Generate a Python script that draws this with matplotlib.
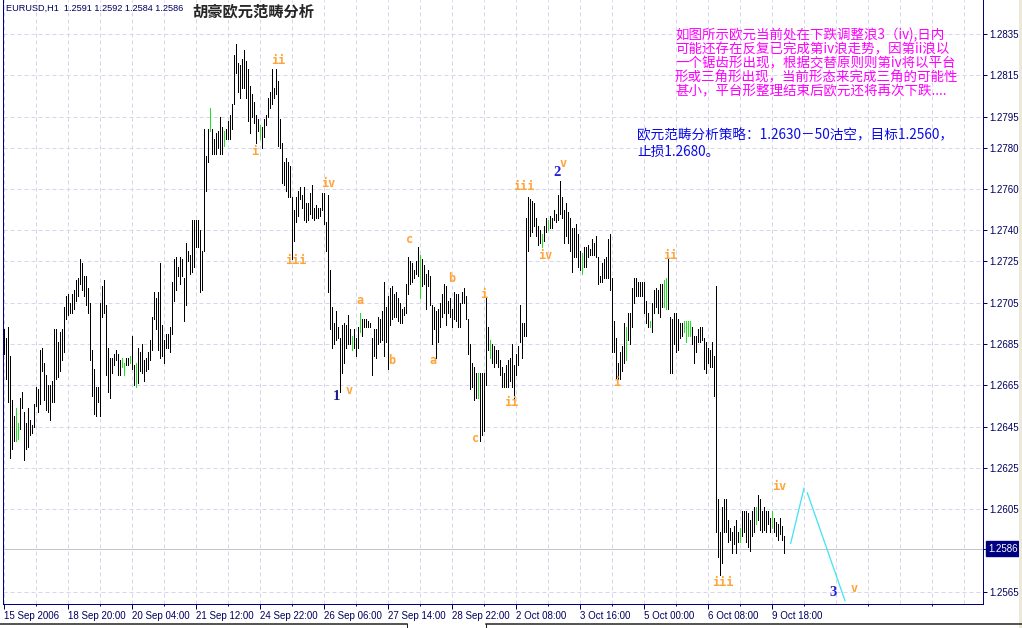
import matplotlib
matplotlib.use('Agg')
import matplotlib.pyplot as plt
from matplotlib.transforms import blended_transform_factory
from matplotlib.lines import Line2D
from matplotlib.patches import Rectangle

# ---------------- data (prices x 10000) ----------------
HIGH_A = [12692, 12688, 12693, 12679, 12658, 12650, 12654, 12647, 12659, 12662,
          12652, 12647, 12654, 12648, 12646, 12656, 12664, 12663, 12682, 12683,
          12676, 12670, 12665, 12665, 12667, 12692, 12692, 12686, 12691, 12692,
          12703, 12708, 12709, 12705, 12709, 12711, 12716, 12717, 12726, 12724,
          12718, 12718, 12712, 12705, 12682, 12673, 12664, 12664, 12705, 12713,
          12716, 12704, 12683, 12678, 12678, 12680, 12682, 12680, 12677, 12678,
          12676, 12678, 12678, 12679, 12689, 12675, 12676, 12683, 12681, 12685,
          12677, 12678, 12681, 12687, 12698, 12710, 12707, 12710, 12724, 12694,
          12687, 12690, 12690, 12693, 12715, 12726, 12727, 12722, 12727, 12726,
          12717, 12734, 12730, 12728, 12745, 12745, 12745, 12745, 12740, 12730]
LOW_A = [12680, 12668, 12657, 12630, 12634, 12638, 12638, 12639, 12644, 12654,
         12629, 12634, 12635, 12641, 12642, 12645, 12655, 12652, 12656, 12672,
         12658, 12653, 12652, 12648, 12657, 12657, 12668, 12669, 12672, 12677,
         12681, 12697, 12699, 12700, 12700, 12702, 12706, 12708, 12714, 12711,
         12708, 12704, 12700, 12677, 12660, 12651, 12650, 12657, 12650, 12698,
         12700, 12670, 12662, 12659, 12671, 12675, 12677, 12670, 12670, 12674,
         12670, 12675, 12675, 12676, 12673, 12665, 12664, 12666, 12672, 12671,
         12667, 12672, 12673, 12677, 12682, 12697, 12692, 12682, 12678, 12679,
         12676, 12683, 12683, 12681, 12690, 12706, 12711, 12718, 12714, 12718,
         12696, 12704, 12725, 12719, 12720, 12722, 12732, 12732, 12710, 12711]
HIGH_B = [12789, 12776, 12789, 12799, 12789, 12784, 12787, 12788, 12795, 12790,
          12788, 12789, 12793, 12796, 12801, 12825, 12830, 12821, 12820, 12823,
          12827, 12822, 12818, 12810, 12806, 12802, 12796, 12794, 12791, 12790,
          12794, 12796, 12804, 12807, 12818, 12809, 12818, 12812, 12794, 12782,
          12773, 12775, 12773, 12771, 12756, 12750, 12756, 12759, 12761, 12757,
          12761, 12753, 12753, 12758, 12762, 12751, 12752, 12751, 12751, 12758,
          12758, 12744, 12757, 12721, 12703, 12695, 12701, 12693, 12688, 12694,
          12695, 12694, 12699, 12692, 12689, 12692, 12688, 12693, 12700, 12697,
          12697, 12697, 12696, 12695, 12688, 12692, 12692, 12698, 12697, 12701,
          12715, 12703, 12708, 12712, 12713, 12709, 12710, 12707, 12705, 12702]
LOW_B = [12730, 12759, 12773, 12788, 12777, 12777, 12777, 12780, 12777, 12777,
         12781, 12784, 12784, 12784, 12789, 12801, 12816, 12807, 12804, 12809,
         12809, 12804, 12793, 12787, 12795, 12792, 12782, 12788, 12784, 12780,
         12785, 12791, 12795, 12799, 12801, 12804, 12806, 12781, 12780, 12763,
         12762, 12759, 12756, 12756, 12726, 12735, 12744, 12747, 12755, 12751,
         12745, 12744, 12745, 12748, 12746, 12745, 12746, 12746, 12747, 12750,
         12743, 12730, 12710, 12692, 12683, 12685, 12687, 12688, 12662, 12671,
         12676, 12683, 12685, 12685, 12682, 12683, 12679, 12683, 12691, 12689,
         12693, 12693, 12693, 12693, 12670, 12679, 12678, 12685, 12686, 12687,
         12679, 12686, 12673, 12694, 12697, 12698, 12698, 12696, 12695, 12695]
HIGH_C = [12703, 12714, 12727, 12725, 12724, 12721, 12725, 12732, 12728, 12726,
          12723, 12719, 12721, 12718, 12704, 12703, 12701, 12702, 12705, 12709,
          12714, 12713, 12706, 12707, 12702, 12710, 12709, 12709, 12705, 12710,
          12712, 12708, 12697, 12685, 12676, 12674, 12671, 12671, 12671, 12671,
          12671, 12707, 12693, 12687, 12685, 12684, 12682, 12682, 12677, 12674,
          12671, 12675, 12677, 12678, 12685, 12675, 12680, 12684, 12704, 12695,
          12695, 12746, 12756, 12755, 12754, 12753, 12746, 12742, 12740, 12738,
          12742, 12746, 12745, 12747, 12746, 12750, 12748, 12757, 12764, 12756,
          12750, 12753, 12749, 12746, 12741, 12741, 12743, 12738, 12730, 12729,
          12732, 12732, 12733, 12731, 12736, 12734, 12737, 12727, 12718, 12724]
LOW_C = [12699, 12700, 12709, 12714, 12715, 12717, 12719, 12718, 12707, 12713,
         12714, 12702, 12713, 12704, 12685, 12692, 12678, 12686, 12693, 12698,
         12700, 12694, 12700, 12698, 12693, 12697, 12696, 12693, 12693, 12705,
         12705, 12697, 12680, 12663, 12664, 12658, 12659, 12659, 12638, 12641,
         12643, 12665, 12682, 12678, 12676, 12674, 12676, 12674, 12670, 12664,
         12664, 12664, 12664, 12667, 12664, 12659, 12670, 12675, 12686, 12678,
         12689, 12689, 12730, 12737, 12739, 12742, 12737, 12733, 12734, 12732,
         12735, 12739, 12740, 12741, 12741, 12745, 12744, 12745, 12748, 12746,
         12734, 12737, 12734, 12730, 12720, 12727, 12727, 12722, 12721, 12719,
         12722, 12722, 12727, 12728, 12728, 12728, 12727, 12714, 12715, 12715]
HIGH_D = [12726, 12727, 12736, 12738, 12717, 12696, 12688, 12676, 12681, 12684,
          12695, 12693, 12700, 12700, 12712, 12717, 12717, 12715, 12715, 12715,
          12715, 12706, 12700, 12696, 12705, 12711, 12712, 12711, 12714, 12714,
          12716, 12717, 12726, 12698, 12697, 12700, 12700, 12697, 12695, 12695,
          12696, 12696, 12696, 12696, 12693, 12689, 12689, 12692, 12693, 12693,
          12688, 12686, 12683, 12682, 12686, 12679, 12713, 12610, 12594, 12606,
          12610, 12610, 12600, 12596, 12594, 12597, 12600, 12594, 12596, 12604,
          12604, 12604, 12603, 12600, 12604, 12606, 12606, 12612, 12610, 12604,
          12606, 12604, 12604, 12601, 12604, 12601, 12599, 12598, 12601, 12597, 12592]
LOW_D = [12717, 12717, 12717, 12711, 12681, 12681, 12668, 12668, 12668, 12672,
         12676, 12677, 12687, 12685, 12693, 12705, 12708, 12708, 12708, 12708,
         12700, 12695, 12693, 12693, 12691, 12700, 12703, 12700, 12698, 12703,
         12703, 12702, 12702, 12671, 12671, 12685, 12681, 12682, 12688, 12689,
         12691, 12686, 12689, 12689, 12685, 12676, 12681, 12686, 12686, 12687,
         12673, 12671, 12676, 12674, 12674, 12660, 12594, 12582, 12573, 12579,
         12594, 12594, 12589, 12590, 12584, 12588, 12584, 12589, 12589, 12592,
         12594, 12589, 12587, 12585, 12592, 12594, 12598, 12600, 12595, 12594,
         12595, 12594, 12598, 12594, 12596, 12594, 12592, 12590, 12593, 12590, 12584]
GREEN_BARS = [6, 7, 59, 60, 63, 66, 103, 110, 128, 174, 178, 208, 237, 243, 269,
              272, 289, 311, 323, 330, 331, 340, 341, 342, 343, 368, 376, 384]

# projection (cyan) path: bar index, price
PROJ1_X = [393.6, 400.25]
PROJ1_Y = [1.25886, 1.26152]
PROJ2_X = [401.9, 420.75]
PROJ2_Y = [1.26130, 1.25608]

LAST_PRICE = 1.2586
PRICE_LEVELS = [1.2835, 1.2815, 1.2795, 1.2780, 1.2760, 1.2740, 1.2725, 1.2705,
                1.2685, 1.2665, 1.2645, 1.2625, 1.2605, 1.2565]
DATE_TICKS = [0, 32, 64, 96, 128, 160, 192, 224, 256, 288, 320, 352, 384]
DATE_LABELS = ['15 Sep 2006', '18 Sep 20:00', '20 Sep 04:00', '21 Sep 12:00',
               '24 Sep 22:00', '26 Sep 06:00', '27 Sep 14:00', '28 Sep 22:00',
               '2 Oct 08:00', '3 Oct 16:00', '5 Oct 00:00', '6 Oct 08:00',
               '9 Oct 18:00']
HEADER = 'EURUSD,H1  1.2591 1.2592 1.2584 1.2586'
TITLE = '胡豪欧元范畴分析'
NOTE_LINES = ['如图所示欧元当前处在下跌调整浪3（iv),日内',
              '可能还存在反复已完成第iv浪走势，因第ii浪以',
              '一个锯齿形出现，根据交替原则则第iv将以平台',
              '形或三角形出现，当前形态来完成三角的可能性',
              '甚小，平台形整理结束后欧元还将再次下跌....']
STRATEGY_LINES = ['欧元范畴分析策略：1.2630－50沽空，目标1.2560，',
                  '止损1.2680。']

# ---------------- styling ----------------
W, H = 1022, 628
PX = 72 / 100.0  # one pixel in points
NAVY = '#000080'
TXT_NAVY = '#000060'
ORANGE = '#ffa43a'
GRID = '#d6d6ee'
CJK = ['Noto Sans CJK SC', 'DejaVu Sans']

fig = plt.figure(figsize=(W / 100, H / 100), dpi=100)
fig.patch.set_facecolor('white')

ax = fig.add_axes([3 / W, 1 - 604 / H, 980 / W, 604 / H])
ax.set_facecolor('white')
ax.set_xlim(-0.25, 489.75)
ax.set_ylim(1.25592, 1.28514)

highs = [v / 10000 for v in HIGH_A + HIGH_B + HIGH_C + HIGH_D]
lows = [v / 10000 for v in LOW_A + LOW_B + LOW_C + LOW_D]
idx = list(range(len(highs)))
green = set(GREEN_BARS)
cols = ['#22e022' if i in green else 'black' for i in idx]
ax.vlines(idx, lows, highs, colors=cols, linewidth=1.0 * PX,
          antialiased=False, zorder=3)

# grid
for lv in PRICE_LEVELS:
    ax.axhline(lv, color=GRID, lw=1.0 * PX, ls=(0, (4, 3)), zorder=1)
for gx in range(0, 490, 16):
    ax.axvline(gx, color=GRID, lw=1.0 * PX, ls=(0, (4, 3)), zorder=1)
ax.axhline(LAST_PRICE, color='#c4c4c4', lw=1.0 * PX, zorder=2)

# projection
ax.plot(PROJ1_X, PROJ1_Y, color='#45e3f3', lw=1.3 * PX, zorder=4)
ax.plot(PROJ2_X, PROJ2_Y, color='#45e3f3', lw=1.3 * PX, zorder=4)

# spines
for s in ['left', 'right', 'bottom']:
    ax.spines[s].set_color(NAVY)
    ax.spines[s].set_linewidth(1.0 * PX)
ax.spines['top'].set_visible(False)

# x ticks
ax.set_xticks(DATE_TICKS)
ax.set_xticklabels(DATE_LABELS, ha='left')
ax.set_xticks(list(range(16, 490, 32)), minor=True)
ax.tick_params(axis='x', which='major', length=5 * PX, width=1.0 * PX,
               color=NAVY, pad=1.2, labelsize=7, labelcolor=TXT_NAVY)
ax.tick_params(axis='x', which='minor', length=2.5 * PX, width=1.0 * PX,
               color=NAVY)
# y ticks on right
ax.yaxis.tick_right()
ax.set_yticks(PRICE_LEVELS)
ax.set_yticklabels(['%.4f' % v for v in PRICE_LEVELS])
ax.tick_params(axis='y', which='major', length=4 * PX, width=1.0 * PX,
               color=NAVY, pad=1.6, labelsize=7, labelcolor=TXT_NAVY)
for lab in ax.get_xticklabels() + ax.get_yticklabels():
    lab.set_family('Liberation Sans')

# last price box
tr = blended_transform_factory(ax.transAxes, ax.transData)
ax.plot([1.0, 1.0 + 4 / 980], [LAST_PRICE, LAST_PRICE], color=NAVY,
        lw=1.0 * PX, transform=tr, clip_on=False)
ax.text(1.0 + 5 / 980, LAST_PRICE, '%.4f' % LAST_PRICE, transform=tr,
        ha='left', va='center', color='white', fontsize=7,
        family='Liberation Sans', clip_on=False,
        bbox=dict(boxstyle='square,pad=0.25', fc=NAVY, ec=NAVY))


def ft(x, y, s, **kw):
    fig.text(x / W, 1 - y / H, s, **kw)


# header texts
ft(6, 8.5, HEADER, fontsize=6.6, family='Liberation Sans', color=TXT_NAVY,
   va='center', ha='left')
ft(192, 11, TITLE, fontsize=11, family=CJK, weight='bold', color='#262626',
   va='center', ha='left')

for k, line in enumerate(NOTE_LINES):
    ft(675, 35 + 14 * k, line, fontsize=9.7, family=CJK, color='#ff00ff',
       va='center', ha='left')
for k, line in enumerate(STRATEGY_LINES):
    ft(637, 135 + 16.5 * k, line, fontsize=9.8, family=CJK, color='#0a0ae6',
       va='center', ha='left')

# wave labels (pixel positions)
WAVE_LABELS = [('ii', 278, 61), ('i', 255, 152), ('iv', 328, 184),
               ('iii', 296, 261), ('a', 360, 301), ('v', 349, 391),
               ('b', 392, 361), ('c', 410, 239), ('b', 452, 278),
               ('a', 433, 361), ('c', 476, 439), ('i', 484, 294),
               ('ii', 511, 402), ('iii', 524, 187), ('iv', 545, 255),
               ('v', 563, 164), ('ii', 670, 255), ('i', 617, 383),
               ('iii', 723, 582), ('iv', 779, 487), ('v', 854, 589)]
for s, x, y in WAVE_LABELS:
    ft(x, y, s, fontsize=8.5, family='DejaVu Sans Mono', weight='bold',
       color=ORANGE, va='center', ha='center')
COUNT_LABELS = [('1', 336, 397, '#1c1c86'), ('2', 557, 173, '#1f1fd6'),
                ('3', 833, 593, '#1f1fe0')]
for s, x, y, c in COUNT_LABELS:
    ft(x, y, s, fontsize=10.5, family='Liberation Serif', weight='bold',
       color=c, va='center', ha='center')

# bottom pane borders and right frame strip
fig.add_artist(Line2D([0, 407 / W], [1 - 624 / H] * 2, color='#202020',
                      lw=1.5 * PX))
fig.add_artist(Line2D([407 / W, 407 / W], [1 - 624 / H, 0], color='#202020',
                      lw=1.0 * PX))
fig.add_artist(Line2D([486 / W, 1], [1 - 624 / H] * 2, color='#202020',
                      lw=1.5 * PX))
fig.add_artist(Line2D([486 / W, 486 / W], [1 - 624 / H, 0], color='#202020',
                      lw=1.0 * PX))
fig.add_artist(Rectangle((1019 / W, 0), 3 / W, 1, transform=fig.transFigure,
                         color='#ece9d8', lw=0))

fig.savefig('out.png', dpi=100, facecolor='white')
